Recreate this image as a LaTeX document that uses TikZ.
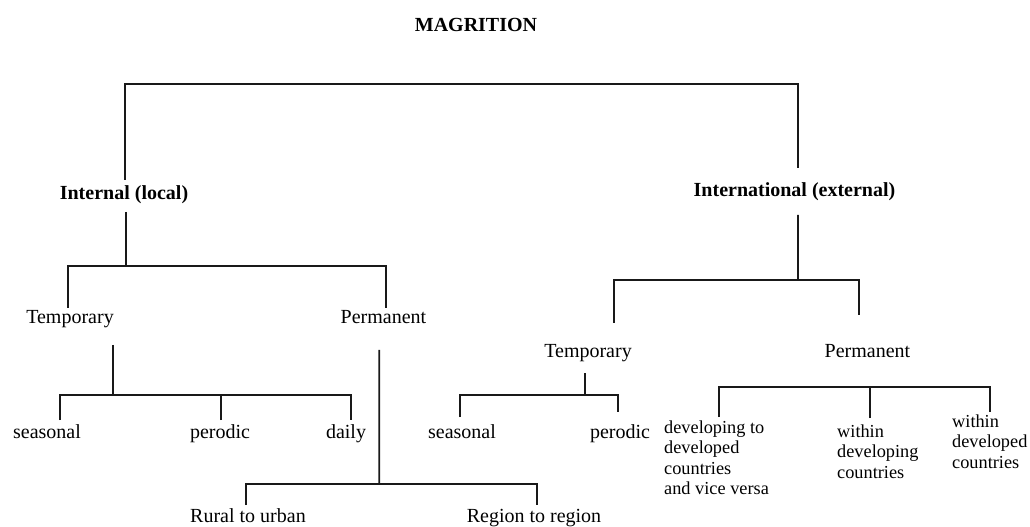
\documentclass[tikz,border=0pt]{standalone}
\usepackage{fontspec}
\setmainfont{Liberation Serif}
\usetikzlibrary{calc}
\begin{document}
\begin{tikzpicture}[x=1bp,y=-1bp,
  txt/.style={inner sep=0pt, text height=14bp, text depth=4bp,
    font=\fontsize{20bp}{24bp}\selectfont},
  headtxt/.style={txt, font=\fontsize{20bp}{24bp}\selectfont\bfseries},
  leaftxt/.style={inner sep=0pt, anchor=north west, align=left,
    font=\fontsize{18.3bp}{20.5bp}\selectfont},
  link/.style={line width=1.8bp, draw=black!90}]
\useasboundingbox (0,0) rectangle (1030,527);

% title and the two main branches
\node[headtxt] (title) at (476,27) {MAGRITION};
\node[headtxt] (int) at (124,195) {Internal (local)};
\node[headtxt] (ext) at (794.5,192) {International (external)};

% internal migration
\node[txt] (tmpL) at (70,319) {Temporary};
\node[txt] (perL) at (383.5,319) {Permanent};
\node[txt] (sea1) at (47,433) {seasonal};
\node[txt] (pe1) at (220,433) {perodic};
\node[txt] (day1) at (346,433) {daily};
\node[txt] (rur) at (248,517) {Rural to urban};
\node[txt] (reg) at (534,517) {Region to region};

% international migration
\node[txt] (tmpR) at (588,352) {Temporary};
\node[txt] (perR) at (867.5,352) {Permanent};
\node[txt] (sea2) at (462,433) {seasonal};
\node[txt] (pe2) at (620,433) {perodic};
\node[leaftxt] (dev) at (664,420.5) {developing to\\developed\\countries\\and vice versa};
\node[leaftxt] (wi1) at (837,424.5) {within\\developing\\countries};
\node[leaftxt] (wi2) at (952,414.5) {within\\developed\\countries};

% junction points of the brackets
\coordinate (j0) at (460,84);
\coordinate (j1) at (126,266);
\coordinate (j2) at (112.7,395);
\coordinate (j3) at (379.3,484);
\coordinate (j4) at (798,280);
\coordinate (j5) at (585,395);
\coordinate (j6) at (870,387);

% top level
\draw[link] ($(int)+(1,-15)$) |- (j0) -| ($(ext)+(3.5,-24)$);

% internal: temporary / permanent
\draw[link] ($(int)+(2,17)$) -- (j1);
\draw[link] ($(tmpL)+(-2,-11)$) |- (j1) -| ($(perL)+(2.5,-11)$);

% internal temporary
\draw[link] ($(tmpL)+(42.7,26)$) -- (j2);
\draw[link] ($(sea1)+(13,-13)$) |- (j2) -| ($(day1)+(5,-13)$);
\draw[link] ($(pe1)+(1,-13)$) -- ($(pe1)+(1,-38)$);

% internal permanent
\draw[link] ($(perL)+(-4.2,31)$) -- (j3);
\draw[link] ($(rur)+(-2,-12)$) |- (j3) -| ($(reg)+(3,-12)$);

% international: temporary / permanent
\draw[link] ($(ext)+(3.5,23)$) -- (j4);
\draw[link] ($(tmpR)+(26,-29)$) |- (j4) -| ($(perR)+(-8.5,-37)$);

% international temporary
\draw[link] ($(tmpR)+(-3,21)$) -- (j5);
\draw[link] ($(sea2)+(-2,-16)$) |- (j5) -| ($(pe2)+(-2,-21)$);

% international permanent
\draw[link] ($(dev.north west)+(55,-3.5)$) |- (j6) -| ($(wi2.north west)+(38,-2.5)$);
\draw[link] ($(wi1.north west)+(33,-6.5)$) -- (j6);
\end{tikzpicture}
\end{document}
